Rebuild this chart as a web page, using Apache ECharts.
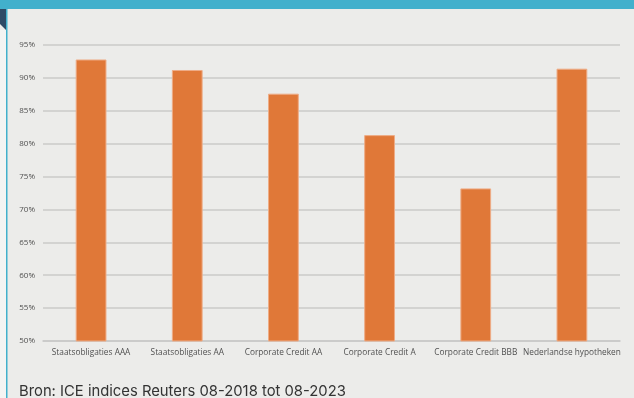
<!DOCTYPE html>
<html>
<head>
<meta charset="utf-8">
<script src="https://cdn.jsdelivr.net/npm/echarts@6/dist/echarts.min.js"></script>
<style>
html,body{margin:0;padding:0;background:#ececea;}
#c{width:634px;height:398px;}
</style>
</head>
<body>
<div id="c"></div>
<script>
var categories = ['Staatsobligaties AAA','Staatsobligaties AA','Corporate Credit AA','Corporate Credit A','Corporate Credit BBB','Nederlandse hypotheken'];
var values = [92.8, 91.2, 87.6, 81.3, 73.2, 91.4];
var yMin = 50, yMax = 95, yStep = 5;
var sourceText = 'Bron: ICE indices Reuters 08-2018 tot 08-2023';

var chart = echarts.init(document.getElementById('c'), null, {renderer:'canvas'});
chart.setOption({
  backgroundColor: '#ececea',
  animation: false,
  title: {
    text: sourceText,
    left: 14, bottom: -6,
    textStyle: {fontFamily: 'Inter', fontSize: 14.8, fontWeight: 'normal', color: '#333333'}
  },
  graphic: [
    {type:'rect', shape:{x:0,y:0,width:634,height:9}, style:{fill:'#42b0cc'}, z:10},
    {type:'polygon', shape:{points:[[0,9],[6,9],[6,30],[0,24]]}, style:{fill:'#2e4a66'}, z:10},
    {type:'rect', shape:{x:0,y:30,width:6,height:368}, style:{fill:'#f4f4f3'}, z:9},
    {type:'rect', shape:{x:6,y:9,width:1.5,height:389}, style:{fill:'#42b0cc'}, z:10}
  ],
  grid: {left: 43, right: 14, top: 45, bottom: 57},
  xAxis: {
    type: 'category',
    data: categories,
    axisTick: {show: false},
    axisLine: {lineStyle: {color: '#c9c9c7', width: 1.5}},
    axisLabel: {interval: 0, fontFamily: 'Open Sans', fontSize: 8.3, color: '#505050', margin: 8}
  },
  yAxis: {
    type: 'value',
    min: yMin, max: yMax, interval: yStep,
    axisLine: {show: false},
    axisTick: {show: false},
    splitLine: {lineStyle: {color: '#cbcbc9', width: 1.5}},
    axisLabel: {formatter: '{value}%', fontFamily: 'Open Sans', fontSize: 8, color: '#505050', margin: 8}
  },
  series: [{
    type: 'bar',
    data: values,
    barWidth: '32%',
    itemStyle: {color: '#e07838', borderColor: '#eeac86', borderWidth: 1}
  }]
});
</script>
</body>
</html>
